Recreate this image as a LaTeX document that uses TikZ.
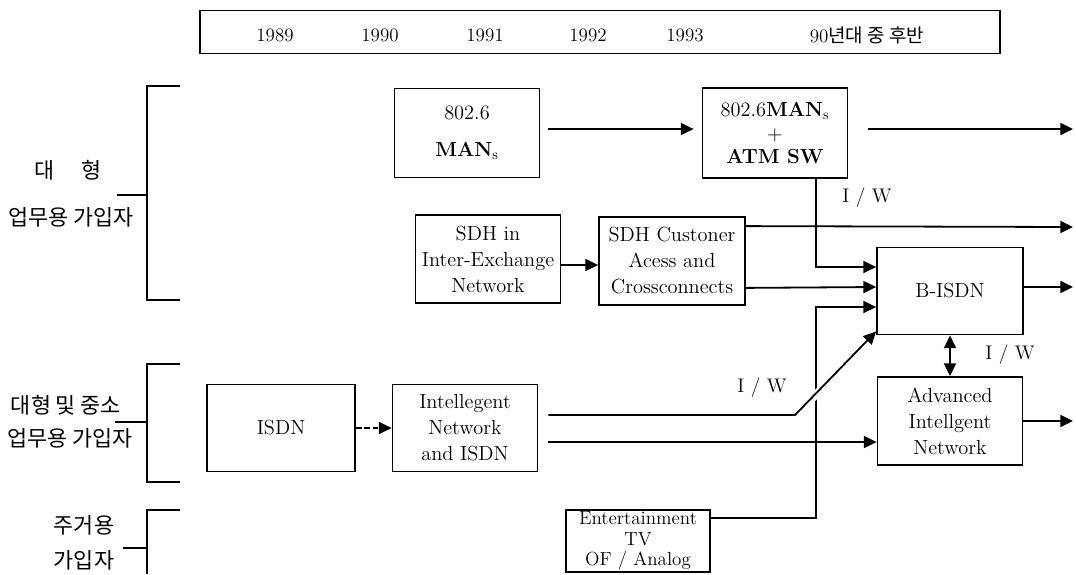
\documentclass[tikz,border=0pt]{standalone}
\usepackage{fontspec}
\newfontfamily\kr{Noto Sans CJK KR}
\usepackage{tikz}
\usetikzlibrary{arrows.meta, positioning, calc}

\begin{document}
\begin{tikzpicture}[x=0.025cm, y=-0.025cm,
        every node/.style={font=\fontsize{14.5}{18.5}\selectfont},
        blk/.style 2 args={draw, line width=0.45mm, minimum width=#1*0.025cm, minimum height=#2*0.025cm, align=center, inner sep=1pt},
        arr/.style={line width=0.45mm, -{Triangle[length=9pt, width=8.5pt]}},
        arrtwo/.style={line width=0.45mm, {Triangle[length=9pt, width=8.5pt]}-{Triangle[length=9pt, width=8.5pt]}},
        brk/.style={line width=0.45mm},
        yr/.style={font=\fontsize{13.5}{16}\selectfont},
        grp/.style={font=\fontsize{15.5}{18}\selectfont\kr},
        iw/.style={font=\fontsize{14}{16}\selectfont}]
        \useasboundingbox (0,0) rectangle (1076,574);

        % time bar
        \node[blk={800}{43}] (years) at (600,32) {};
        \foreach \yr/\xx in {1989/275, 1990/380, 1991/485, 1992/588, 1993/685}
            \node[yr] (y\yr) at (\xx,35) {\yr};
        \node[yr] (ylate) at (867,35) {90{\kr 년대 중 후반}};

        % subscriber groups
        \node[grp] (gaa) at (68,170) {대\quad\ 형};
        \node[grp] (gab) at (71,217) {업무용 가입자};
        \node[grp] (gba) at (66,405) {대형 및 중소};
        \node[grp] (gbb) at (70,438) {업무용 가입자};
        \node[grp] (gca) at (84,525) {주거용};
        \node[grp] (gcb) at (84,560) {가입자};

        \draw[brk] (180,86) -| (147,300) -- (180,300);
        \draw[brk] (117,195) -- (147,195);
        \draw[brk] (180,364) -| (147,482) -- (180,482);
        \draw[brk] (115,422) -- (147,422);
        \draw[brk] (180,510) -| (147,574);
        \draw[brk] (123,548) -- (147,548);

        % networks
        \node[blk={145}{89}] (man) at (467,133) {802.6\\[8pt]\textbf{MAN}$_\mathrm{s}$};
        \node[blk={145}{90}] (atm) at (775,133) {802.6\textbf{MAN}$_\mathrm{s}$\\[-2pt]+\\[-2pt]\textbf{ATM SW}};
        \node[blk={145}{88}] (sdhin) at (488,259) {SDH in\\Inter-Exchange\\Network};
        \node[blk={146}{88}] (sdhcu) at (672,261) {SDH Custoner\\Acess and\\Crossconnects};
        \node[blk={146}{87}] (bisdn) at (950,291) {B-ISDN};
        \node[blk={148}{87}] (isdn) at (281,428) {ISDN};
        \node[blk={145}{87}] (intnet) at (465,428) {Intellegent\\Network\\and ISDN};
        \node[blk={144}{62}, font=\fontsize{13.5}{14.5}\selectfont] (ent) at (638,541) {Entertainment\\TV\\OF / Analog};
        \node[blk={145}{88}] (ain) at (950,421) {Advanced\\Intellgent\\Network};

        \coordinate (o1) at (1073,129);
        \coordinate (o2) at (1073,227);
        \coordinate (o3) at (1073,287);
        \coordinate (k1) at (795,415);
        \coordinate (k2) at (816,307);

        \draw[arr] ($(man.east)+(8,-4)$) -- ($(atm.west)+(-8,-4)$);
        \draw[arr] ($(atm.east)+(20,-4)$) -- (o1);
        \draw[arr] ($(sdhin.east)+(0,6)$) -- ($(sdhcu.west)+(0,4)$);
        \draw[arr] ($(sdhcu.north east)+(0,10)$) -- (o2);
        \draw[arr] ($(sdhcu.south east)+(0,-18)$) -- ($(bisdn.west)+(0,-4)$);
        \draw[arr] ($(atm.south)+(41,0)$) |- ($(bisdn.west)+(0,-24)$);
        \draw[arr] ($(ent.east)+(0,-23)$) -| (k2) -- ($(bisdn.west)+(0,16)$);
        \draw[white, line width=2mm] ($(k1)!0.1!(bisdn.south west)$) -- ($(k1)!0.45!(bisdn.south west)$);
        \draw[arr] ($(intnet.east)+(10,-13)$) -- (k1) -- ($(bisdn.south west)+(0,-4)$);
        \draw[arr] ($(intnet.east)+(10,14)$) coordinate (c3) -- (c3 -| ain.west);
        \draw[arr, dash pattern=on 4pt off 2pt] (isdn.east) -- (intnet.west);
        \draw[arrtwo] (bisdn.south) -- (ain.north);
        \draw[arr] ($(bisdn.east)+(0,-4)$) -- (o3);
        \draw[arr] (ain.east) -- (ain.east -| o1);

        \node[iw] (iwa) at (867,198) {I / W};
        \node[iw] (iwb) at (762,388) {I / W};
        \node[iw] (iwc) at (1010,355) {I / W};
\end{tikzpicture}
\end{document}
